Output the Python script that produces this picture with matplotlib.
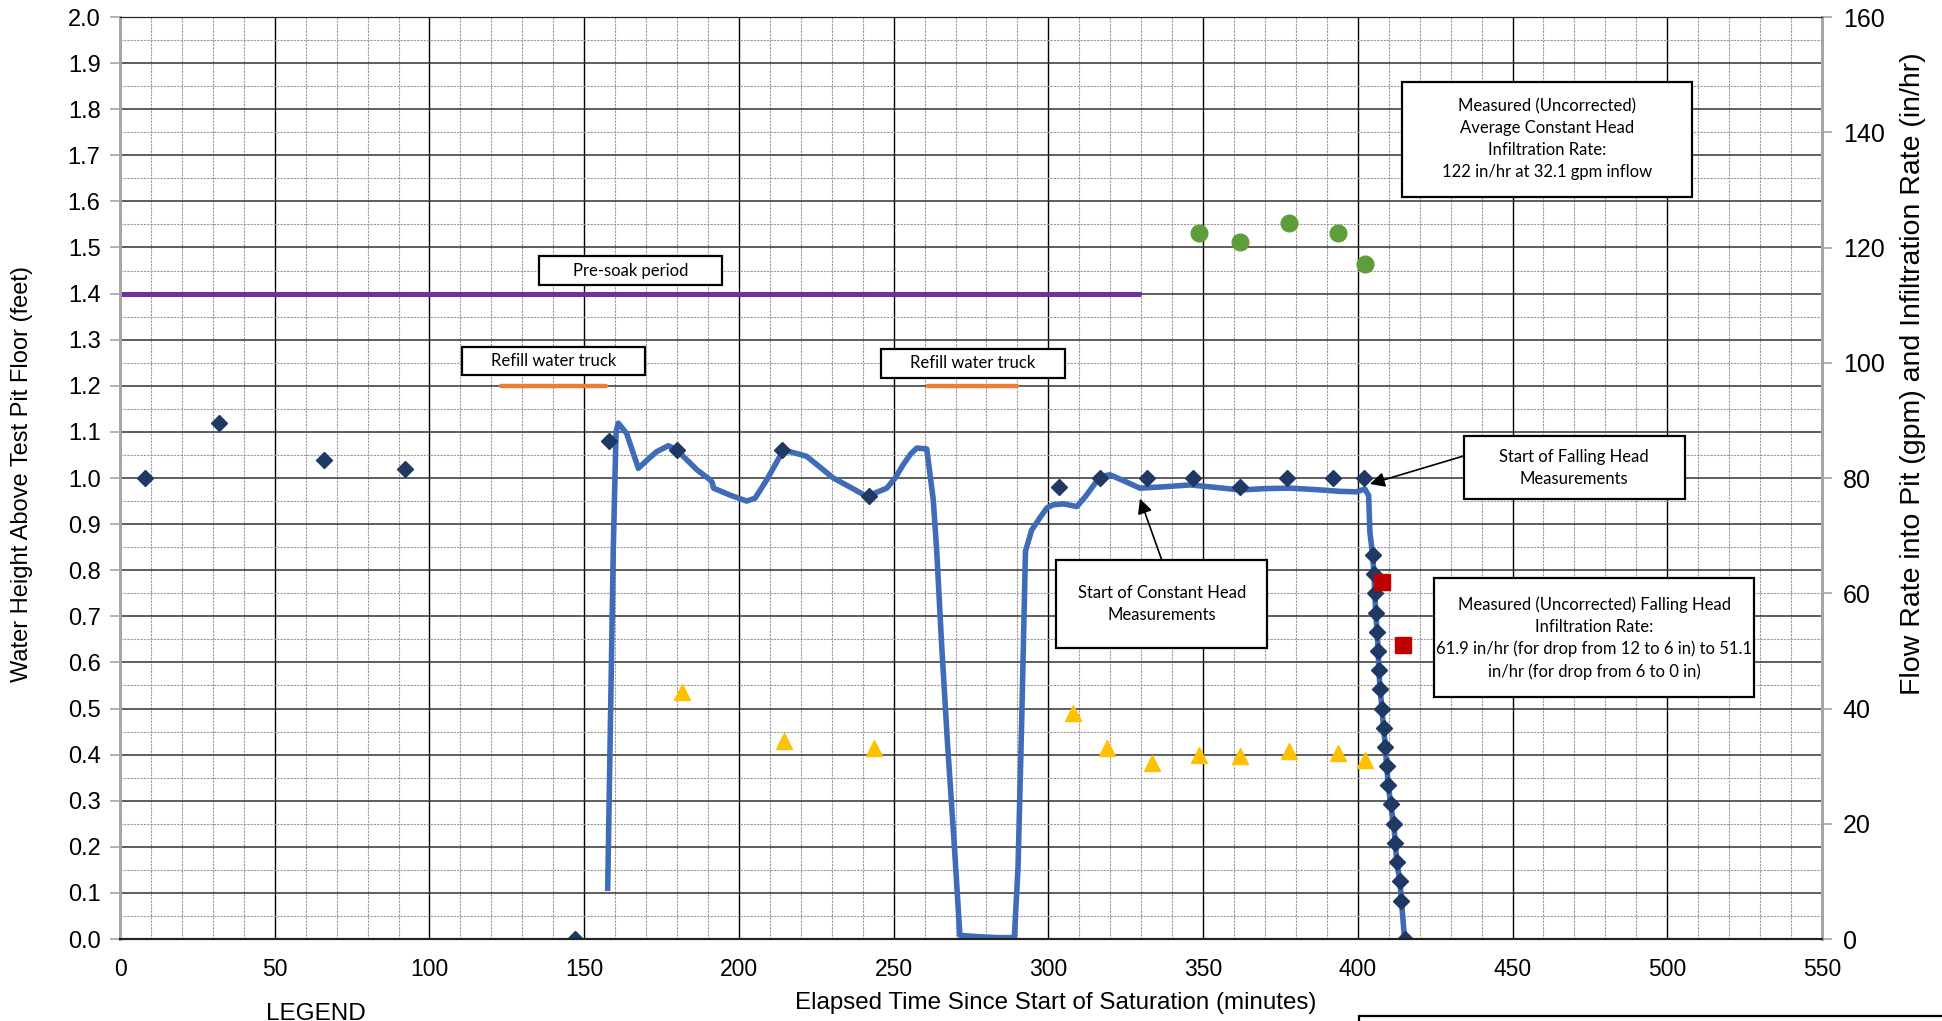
import matplotlib
matplotlib.use("Agg")
import matplotlib.pyplot as plt
from matplotlib.patches import Rectangle
from matplotlib.ticker import MultipleLocator

# ---------------- data ----------------
# manual water height readings (feet)
manual_x = [8.0, 32.0, 66.0, 92.0, 147.0, 158.0, 180.0, 214.0, 242.0, 303.5, 316.6,
            332.0, 346.7, 362.0, 377.0, 392.0, 402.0]
manual_y = [1.00, 1.12, 1.04, 1.02, 0.00, 1.08, 1.06, 1.06, 0.96, 0.98, 1.00,
            1.00, 1.00, 0.98, 1.00, 1.00, 1.00]

# falling head readings (feet)
fall_x = [404.8, 405.2, 405.5, 405.8, 406.2, 406.6, 406.8, 407.2, 407.8, 408.3,
          408.9, 409.3, 409.9, 410.6, 411.6, 412.1, 412.6, 413.6, 414.1, 415.1]
fall_y = [0.833, 0.792, 0.750, 0.708, 0.667, 0.625, 0.583, 0.542, 0.500, 0.458,
          0.417, 0.375, 0.333, 0.292, 0.250, 0.208, 0.167, 0.125, 0.083, 0.000]

# continuous logger water level (feet)
log_x = [157.6, 159.4, 160.3, 161.0, 163.7, 167.5, 170.5, 173.4, 177.2, 179.9, 186.4,
         190.7, 191.4, 191.8, 197.1, 202.5, 205.2, 209.0, 214.4, 221.9, 230.5, 236.0,
         241.3, 247.8, 250.5, 253.1, 255.5, 257.5, 260.7, 262.8, 263.9, 265.5, 267.4,
         269.8, 271.4, 277.4, 283.4, 289.0, 290.2, 291.4, 292.6, 294.6, 297.3, 299.5,
         301.6, 305.0, 309.2, 312.0, 316.7, 319.9, 324.0, 329.6, 337.5, 345.8, 353.5,
         362.0, 370.0, 378.1, 386.0, 394.3, 399.5, 402.3, 403.5, 403.9]
log_y = [0.110, 0.844, 1.100, 1.119, 1.097, 1.021, 1.040, 1.057, 1.070, 1.061, 1.018,
         0.996, 0.990, 0.978, 0.963, 0.950, 0.956, 0.996, 1.061, 1.047, 1.000, 0.980,
         0.960, 0.978, 1.000, 1.029, 1.052, 1.065, 1.063, 0.953, 0.844, 0.640, 0.425,
         0.183, 0.008, 0.005, 0.003, 0.003, 0.156, 0.478, 0.841, 0.887, 0.914, 0.935,
         0.942, 0.944, 0.938, 0.960, 1.003, 1.007, 0.995, 0.978, 0.981, 0.985, 0.980,
         0.974, 0.977, 0.978, 0.975, 0.971, 0.970, 0.976, 0.962, 0.882]

# infiltration rate (in/hr) - right axis
rate_x = [348.7, 361.9, 377.9, 393.5, 402.3]
rate_y = [122.6, 120.9, 124.3, 122.6, 117.2]

# flow rate into pit (gpm) - right axis
flow_x = [181.7, 214.6, 243.8, 307.8, 319.0, 333.4, 348.7, 361.9, 377.9, 393.5, 402.3]
flow_y = [42.8, 34.4, 33.1, 39.3, 33.1, 30.5, 32.0, 31.8, 32.7, 32.3, 31.0]

# falling head infiltration rate (in/hr) - right axis
fhr_x = [407.9, 414.7]
fhr_y = [61.9, 51.1]

# periods
presoak_x = [0, 330]
presoak_y = [1.4, 1.4]
refill1_x = [123, 157]
refill2_x = [261, 290]
refill_y = [1.2, 1.2]

x_ticks = list(range(0, 551, 50))
yl_ticks = [round(0.1 * i, 1) for i in range(21)]
yr_ticks = list(range(0, 161, 20))

# ---------------- figure ----------------
W, H = 1942, 1021
fig = plt.figure(figsize=(W / 100, H / 100), dpi=100)
ax = fig.add_axes([120 / W, 1 - 939 / H, (1822 - 120) / W, (939 - 17) / H])
ax2 = ax.twinx()

tick_font = "Liberation Sans"
box_font = ["Lato", "DejaVu Sans"]

ax.set_xlim(0, 550)
ax.set_ylim(0, 2.0)
ax2.set_ylim(0, 160)

ax.set_xticks(x_ticks)
ax.set_yticks(yl_ticks)
ax.set_yticklabels([f"{v:.1f}" for v in yl_ticks])
ax.xaxis.set_minor_locator(MultipleLocator(10))
ax.yaxis.set_minor_locator(MultipleLocator(0.05))
ax2.set_yticks(yr_ticks)

ax.grid(which="major", axis="x", color="black", lw=1.0, ls="-")
ax.grid(which="minor", axis="x", color="#9a9a9a", lw=0.8, ls=(0, (2, 1)))
ax.grid(which="major", axis="y", color="#333333", lw=1.1, ls="-")
ax.grid(which="minor", axis="y", color="#9a9a9a", lw=0.8, ls=(0, (2, 1)))
ax.set_axisbelow(True)

for a in (ax, ax2):
    for s in ("left", "right"):
        a.spines[s].set_color("#a6a6a6")
        a.spines[s].set_linewidth(2)
    a.spines["top"].set_color("#222222")
    a.spines["bottom"].set_color("#222222")
    a.spines["bottom"].set_linewidth(1.5)

ax.tick_params(axis="y", which="major", length=7, color="#a6a6a6", width=1.2,
               labelsize=17, pad=7)
ax.tick_params(axis="y", which="minor", length=0)
ax.tick_params(axis="x", which="both", length=0, labelsize=16.5, pad=14)
ax2.tick_params(axis="y", length=7, color="#a6a6a6", width=1.2, labelsize=18, pad=8)
for lab in ax.get_xticklabels() + ax.get_yticklabels() + ax2.get_yticklabels():
    lab.set_fontfamily(tick_font)

# data series
ax.plot(presoak_x, presoak_y, color="#7030A0", lw=3.6, solid_capstyle="butt", zorder=3)
ax.plot(refill1_x, refill_y, color="#ED7D31", lw=3.2, solid_capstyle="round", zorder=3)
ax.plot(refill2_x, refill_y, color="#ED7D31", lw=3.2, solid_capstyle="round", zorder=3)
ax.plot(log_x + fall_x, log_y + fall_y, color="#3F6BB7", lw=4.0, zorder=4,
        solid_joinstyle="round")
ax.plot(manual_x, manual_y, ls="none", marker="D", ms=7.8, color="#1F3864", zorder=5)
ax.plot(fall_x, fall_y, ls="none", marker="D", ms=7.8, color="#1F3864", zorder=5)

ax2.plot(rate_x, rate_y, ls="none", marker="o", ms=12, color="#5E9E3A", zorder=5)
ax2.plot(flow_x, flow_y, ls="none", marker="^", ms=11, color="#FFC000", zorder=5)
ax2.plot(fhr_x, fhr_y, ls="none", marker="s", ms=11.5, color="#C00000", zorder=5)

# annotation boxes (left axis data coordinates)
boxes = [
    ((135.3, 1.419), 59.2, 0.062, "Pre-soak period"),
    ((110.5, 1.223), 59.2, 0.062, "Refill water truck"),
    ((245.8, 1.218), 59.6, 0.062, "Refill water truck"),
    ((414.3, 1.610), 93.7, 0.250,
     "Measured (Uncorrected)\nAverage Constant Head\nInfiltration Rate:\n122 in/hr at 32.1 gpm inflow"),
    ((434.3, 0.954), 71.3, 0.137, "Start of Falling Head\nMeasurements"),
    ((302.6, 0.632), 68.1, 0.191, "Start of Constant Head\nMeasurements"),
    ((424.7, 0.524), 103.3, 0.258,
     "Measured (Uncorrected) Falling Head\nInfiltration Rate:\n61.9 in/hr (for drop from 12 to 6 in) to 51.1\nin/hr (for drop from 6 to 0 in)"),
]
tr = ax.transData
for (x0, y0), w, h, txt in boxes:
    ax2.add_patch(Rectangle((x0, y0), w, h, transform=tr, facecolor="white",
                            edgecolor="black", lw=1.6, zorder=6))
    ax2.text(x0 + w / 2, y0 + h / 2, txt, transform=tr, ha="center", va="center",
             fontsize=12, family=box_font, linespacing=1.45, zorder=7)

# arrows
ax2.annotate("", xy=(403.9, 0.987), xytext=(434.3, 1.048), xycoords=tr, textcoords=tr,
             arrowprops=dict(arrowstyle="-|>", color="black", lw=1.2,
                             mutation_scale=22, shrinkA=0, shrinkB=0), zorder=7)
ax2.annotate("", xy=(329.6, 0.955), xytext=(336.6, 0.823), xycoords=tr, textcoords=tr,
             arrowprops=dict(arrowstyle="-|>", color="black", lw=1.2,
                             mutation_scale=22, shrinkA=0, shrinkB=0), zorder=7)

# axis labels
fig.text(22 / W, 1 - 474 / H, "Water Height Above Test Pit Floor (feet)", rotation=90,
         ha="center", va="center", fontsize=17, family=tick_font)
fig.text(1913 / W, 1 - 374 / H, "Flow Rate into Pit (gpm) and Infiltration Rate (in/hr)",
         rotation=90, ha="center", va="center", fontsize=20.5, family=tick_font)
fig.text(1056 / W, 1 - 1003 / H, "Elapsed Time Since Start of Saturation (minutes)",
         ha="center", va="center", fontsize=17.4, family=tick_font)

# legend header (cut off at bottom of image, as in the source)
fig.text(316 / W, 1 - 1003 / H, "LEGEND", ha="center", va="top", fontsize=17.5,
         family=tick_font)
fig.patches.append(Rectangle((1359 / W, -0.05), 1.0, 0.05 + (1 - 1016 / H),
                             transform=fig.transFigure, facecolor="none",
                             edgecolor="black", lw=1.6))

fig.savefig("out.png", dpi=100)
